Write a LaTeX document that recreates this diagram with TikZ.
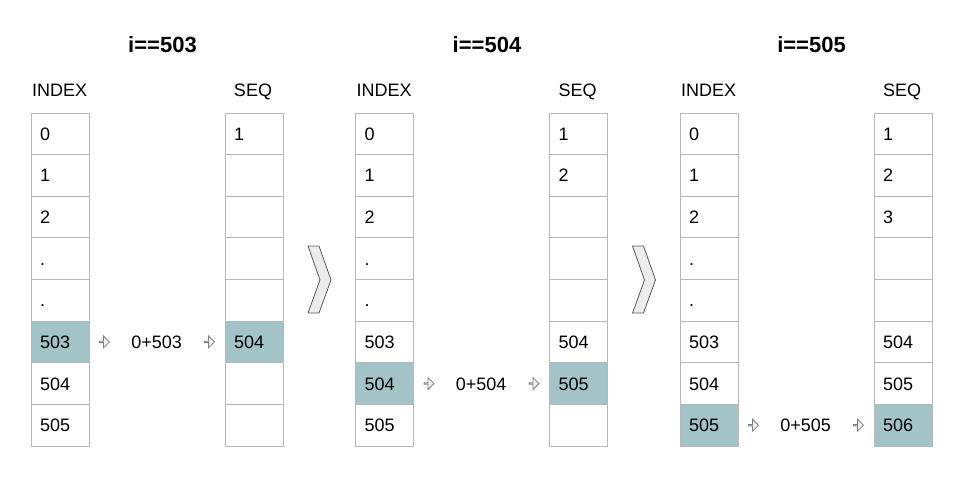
\documentclass[tikz,border=0pt]{standalone}
\usepackage{fontspec}
\setmainfont{Liberation Sans}
\usetikzlibrary{shapes.arrows}
\usetikzlibrary{positioning}
\usetikzlibrary{calc}

\definecolor{hilite}{HTML}{A2C4C9}
\definecolor{cellline}{HTML}{B7B7B7}
\definecolor{chevline}{HTML}{595959}

\tikzset{
    cell/.style={draw=cellline, line width=1pt, anchor=north west, outer sep=0pt,
        text width=40pt, inner xsep=9pt, inner ysep=0pt, minimum height=41.625pt,
        text height=12.9pt, text depth=0pt, align=left, font=\fontsize{18}{18}\selectfont},
    title/.style={anchor=base, inner sep=0pt, font=\bfseries\fontsize{22}{22}\selectfont},
    head/.style={anchor=base, inner sep=0pt, font=\fontsize{18}{18}\selectfont},
    sum/.style={inner sep=0pt, text height=12.9pt, text depth=0pt, font=\fontsize{18}{18}\selectfont},
    harrow/.style={single arrow, draw=gray, fill=gray!12, line width=0.8pt, inner sep=0pt,
        minimum width=12pt, minimum height=10pt, single arrow head extend=3pt},
    chev/.style={draw=chevline, fill=gray!15, line width=0.8pt, line join=round}
}

\begin{document}
\begin{tikzpicture}[x=1pt, y=-1pt]

    \fill[white] (0,0) rectangle (953,482);
    \useasboundingbox (0,0) rectangle (953,482);

    \foreach \g in {0,1,2} {
        \pgfmathsetmacro\ox{324.5*\g}
        \pgfmathtruncatemacro\hot{5+\g}
        \pgfmathtruncatemacro\cur{503+\g}

        \node[title] (ttl\g) at (162.5+\ox, 52.3) {i==\cur};
        \node[head, anchor=base west] (hidx\g) at (32+\ox, 96.7) {INDEX};
        \node[head] (hseq\g) at (253+\ox, 96.7) {SEQ};

        \foreach \t [count=\r from 0] in {0,1,2,{.},{.},503,504,505} {
            \ifnum\r=\hot \def\fc{hilite}\else \def\fc{white}\fi
            \def\s{}
            \ifnum\r>\g \else \pgfmathtruncatemacro\s{\r+1}\fi
            \ifnum\r<5 \else \ifnum\r>\hot \else \pgfmathtruncatemacro\s{\r+499}\fi\fi
            \node[cell, fill=\fc] (idx\g-\r) at (31+\ox, 113+41.625*\r) {\t};
            \node[cell, fill=\fc] (seq\g-\r) at (225+\ox, 113+41.625*\r) {\s};
        }

        % step for this i
        \node[harrow, right=10pt of idx\g-\hot] (al\g) {};
        \node[harrow, left=10pt of seq\g-\hot] (ar\g) {};
        \node[sum] (sum\g) at ($(al\g)!0.5!(ar\g)$) {0+\cur};
    }

    % chevrons between the steps
    \foreach \g in {0,1} {
        \pgfmathsetmacro\ox{324.5*\g}
        \draw[chev] (308+\ox,246) -- (319+\ox,246) -- (331+\ox,280) -- (319+\ox,313)
            -- (308+\ox,313) -- (320+\ox,280) -- cycle;
    }

\end{tikzpicture}
\end{document}
